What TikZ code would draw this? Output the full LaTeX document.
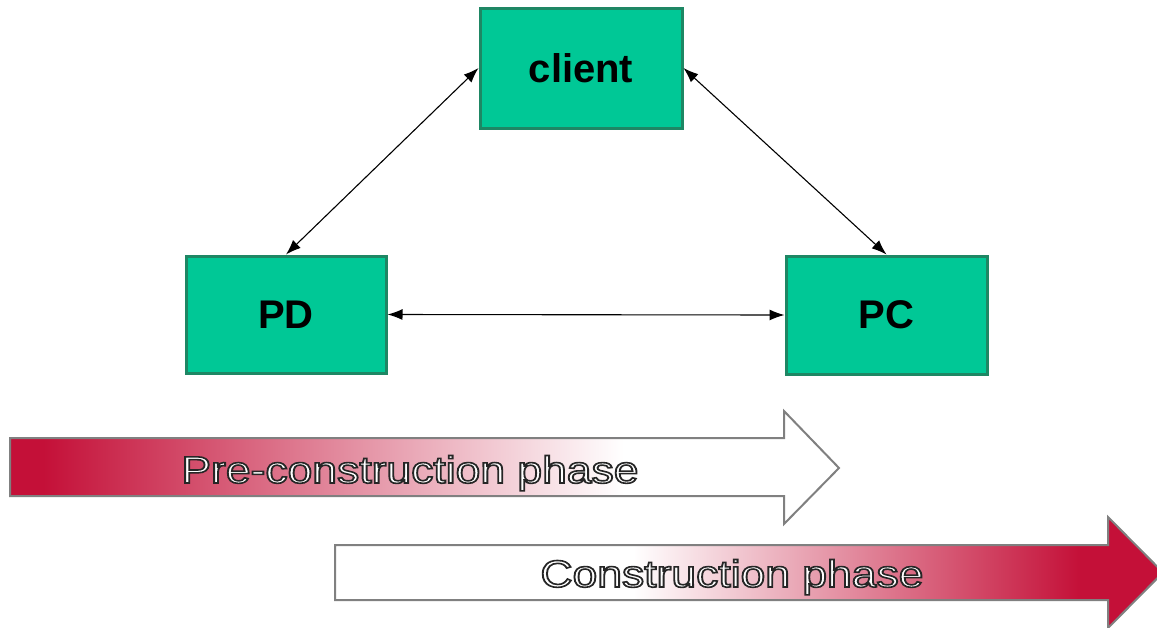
\documentclass[tikz,border=0pt]{standalone}
\usepackage{fontspec}
\setmainfont{Liberation Sans}
\usetikzlibrary{arrows.meta}
\definecolor{boxfill}{RGB}{0,200,150}
\definecolor{boxline}{RGB}{30,135,100}
\definecolor{phred}{RGB}{196,16,56}
\definecolor{arrowline}{RGB}{128,128,128}
\pgfdeclarehorizontalshading{preshade}{100bp}{color(0bp)=(phred); color(27bp)=(phred); color(62bp)=(white); color(100bp)=(white)}
\pgfdeclarehorizontalshading{conshade}{100bp}{color(0bp)=(white); color(43bp)=(white); color(70bp)=(phred); color(100bp)=(phred)}
\newcommand{\outlinetext}[1]{{\color{white}\special{pdf:code 0.15 G 2 Tr 1.6 w}#1\special{pdf:code 0 Tr}}}
\begin{document}
\begin{tikzpicture}[x=1pt,y=-1pt,
  party/.style={draw=boxline, line width=3pt, fill=boxfill, font=\fontsize{40}{40}\selectfont\bfseries, text=black, inner sep=0pt},
  link/.style={arrows={Latex[length=15pt,width=11pt]-Latex[length=15pt,width=11pt]}, line width=1.1pt, draw=black},
  phase/.style={draw=arrowline, line width=2pt, line join=miter},
  phasetext/.style={font=\fontsize{38}{38}\selectfont, text=white, anchor=base, inner sep=0pt}]
\useasboundingbox (0,0) rectangle (1157,627);
% parties
\node[party, minimum width=202pt, minimum height=120pt] (client) at (581,68) {client};
\node[party, minimum width=200pt, minimum height=117pt] (PD) at (286,314.5) {PD};
\node[party, minimum width=201pt, minimum height=118pt] (PC) at (886.5,315) {PC};
% connectors
\draw[link] (client.west) -- (PD.north);
\draw[link] (client.east) -- (PC.north);
\draw[link] (PD.east) -- (PC.west);
% phase arrows
\shadedraw[phase, shading=preshade] (10,438) -- (784,438) -- (784,411) -- (839,468) -- (784,524) -- (784,496) -- (10,496) -- cycle;
\shadedraw[phase, shading=conshade] (335,545) -- (1108,545) -- (1108,517) -- (1163,572.5) -- (1108,628) -- (1108,600) -- (335,600) -- cycle;
\node[phasetext] (pretext) at (410,483) {\scalebox{1.17}[1]{\outlinetext{Pre-construction phase}}};
\node[phasetext] (context) at (732,587) {\scalebox{1.17}[1]{\outlinetext{Construction phase}}};
\end{tikzpicture}
\end{document}
